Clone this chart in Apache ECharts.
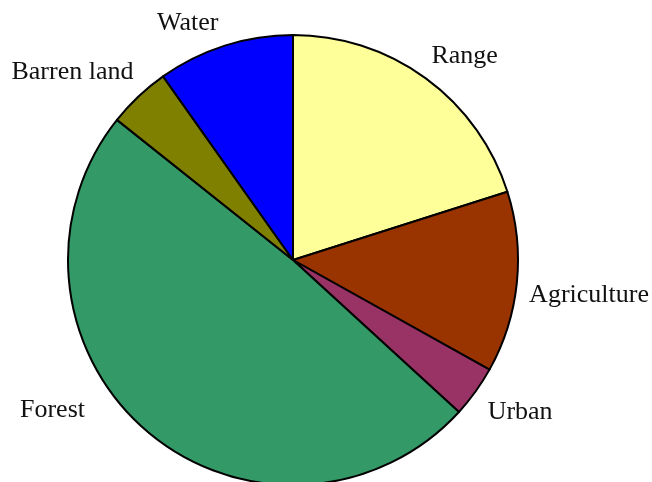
<!DOCTYPE html>
<html>
<head>
<meta charset="utf-8">
<script src="https://cdn.jsdelivr.net/npm/echarts@6/dist/echarts.min.js"></script>
<style>
  html, body { margin: 0; padding: 0; background: #fff; }
  #chart { width: 652px; height: 482px; }
</style>
</head>
<body>
<div id="chart"></div>
<script>
// Land use shares (percent), clockwise from 12 o'clock
const categories = ['Range', 'Agriculture', 'Urban', 'Forest', 'Barren land', 'Water'];
const shares = [20.1, 13.0, 3.7, 48.9, 4.5, 9.8];
const sliceColors = ['#FFFF99', '#993300', '#993366', '#339966', '#808000', '#0000FF'];

// Label placement around the pie: bearing (deg, clockwise from top) and distance from centre
const labelBearing = [40.0, 96.6, 123.7, 238.2, 310.5, 336.1];
const labelDistance = [267, 298, 273, 283, 290, 260];

const cx = 293, cy = 260, radius = 225;

const chart = echarts.init(document.getElementById('chart'), null, { renderer: 'canvas' });

chart.setOption({
  animation: false,
  backgroundColor: '#ffffff',
  series: [{
    type: 'pie',
    center: [cx, cy],
    radius: [0, radius],
    startAngle: 90,
    clockwise: true,
    avoidLabelOverlap: false,
    silent: true,
    data: categories.map((name, i) => ({
      name: name,
      value: shares[i],
      itemStyle: { color: sliceColors[i] }
    })),
    itemStyle: { borderColor: '#000000', borderWidth: 2 },
    label: {
      show: true,
      position: 'outside',
      formatter: '{b}',
      fontFamily: '"Liberation Serif", "Times New Roman", serif',
      fontSize: 26,
      color: '#111111'
    },
    labelLine: { show: false },
    labelLayout: function (p) {
      const i = p.dataIndex;
      const a = labelBearing[i] * Math.PI / 180;
      return {
        x: cx + labelDistance[i] * Math.sin(a),
        y: cy - labelDistance[i] * Math.cos(a) + 1,
        align: 'center',
        verticalAlign: 'middle'
      };
    },
    emphasis: { disabled: true }
  }]
});
</script>
</body>
</html>
